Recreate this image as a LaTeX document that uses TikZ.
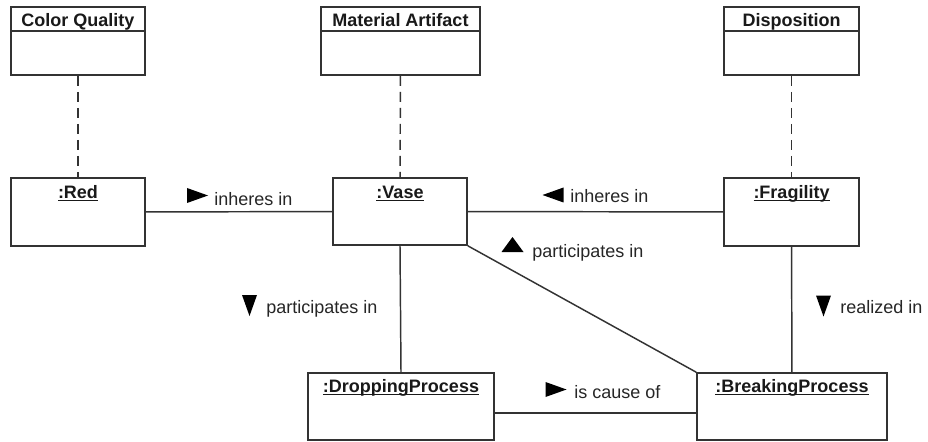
\documentclass[tikz,border=0pt]{standalone}
\usepackage{fontspec}
\setmainfont{Liberation Sans}
\usetikzlibrary{calc,positioning}
\newcommand{\objname}[1]{\setbox0\hbox{#1}\rlap{\rule[-1.8pt]{\wd0}{0.8pt}}\box0}
\tikzset{
box/.style={draw=black!80,line width=1.2pt,fill=white,inner sep=0pt},
assoc/.style={draw=black!80,line width=1.1pt},
inst/.style={assoc,dash pattern=on 7.5pt off 4.5pt},
boxtitle/.style={anchor=base,inner sep=0pt,text=black!90,font=\bfseries\fontsize{13.5}{16}\selectfont},
lbl/.style={anchor=base west,inner sep=0pt,text=black!85,font=\fontsize{13.5}{16}\selectfont},
rolearrow/.pic={\fill[black] (-10.5,7.5) -- (10.5,0) -- (-10.5,-7.5) -- cycle;},
flatarrow/.pic={\fill[black] (-7.5,11) -- (7.5,0) -- (-7.5,-11) -- cycle;}
}

\begin{document}
\begin{tikzpicture}[x=0.75pt,y=-0.75pt]
	\useasboundingbox (0,0) rectangle (928,442);
	
	%classes
	\node[box,minimum width=100.5pt,minimum height=51pt] (cq) at (78,41) {};
	\node[box,minimum width=119.25pt,minimum height=51pt] (ma) at (400.5,41) {};
	\node[box,minimum width=101.25pt,minimum height=51pt] (disp) at (791.5,41) {};
	
	\node[boxtitle] (cqt) at ($(cq.north)+(0,20.5)$) {Color Quality};
	\node[boxtitle] (mat) at ($(ma.north)+(0,20.5)$) {Material Artifact};
	\node[boxtitle] (dispt) at ($(disp.north)+(0,20.5)$) {Disposition};
	
	\draw[assoc] ($(cq.north west)+(0,25)$) -- ($(cq.north east)+(0,25)$);
	\draw[assoc] ($(ma.north west)+(0,25)$) -- ($(ma.north east)+(0,25)$);
	\draw[assoc] ($(disp.north west)+(0,25)$) -- ($(disp.north east)+(0,25)$);
	
	%instances
	\node[box,minimum width=100.5pt,minimum height=51pt] (red) at (78,212) {};
	\node[box,minimum width=100.5pt,minimum height=50.25pt] (vase) at (400,211.5) {};
	\node[box,minimum width=101.25pt,minimum height=51pt] (frag) at (791.5,212) {};
	\node[box,minimum width=139.5pt,minimum height=50.25pt] (drop) at (401,406.5) {};
	\node[box,minimum width=142.5pt,minimum height=50.25pt] (brk) at (792,406.5) {};
	
	\node[boxtitle] (redt) at ($(red.north)+(0,21)$) {\objname{:Red}};
	\node[boxtitle] (vaset) at ($(vase.north)+(0,21)$) {\objname{:Vase}};
	\node[boxtitle] (fragt) at ($(frag.north)+(0,21)$) {\objname{:Fragility}};
	\node[boxtitle] (dropt) at ($(drop.north)+(0,20)$) {\objname{:DroppingProcess}};
	\node[boxtitle] (brkt) at ($(brk.north)+(0,20)$) {\objname{:BreakingProcess}};
	
	%instance of
	\draw[inst] (cq) -- (red);
	\draw[inst] (ma) -- (vase);
	\draw[inst] (disp) -- (frag);
	
	%links
	\draw[assoc] (red) -- (vase);
	\draw[assoc] (vase) -- (frag);
	\draw[assoc] (vase.south) -- (drop.north);
	\draw[assoc] (vase.south east) -- (brk.north west);
	\draw[assoc] (frag) -- (brk);
	\draw[assoc] ([yshift=-4.9pt]drop.east) -- ([yshift=-4.9pt]brk.west);
	
	%link names
	\pic at (197.5,195.5) {rolearrow};
	\node[lbl] (l1) at (214,205) {inheres in};
	\pic[rotate=180] at (553,195) {rolearrow};
	\node[lbl] (l2) at (570,203) {inheres in};
	\pic[rotate=90] at (512.5,244.5) {flatarrow};
	\node[lbl] (l3) at (532,257) {participates in};
	\pic[rotate=-90] at (249.5,305.5) {rolearrow};
	\node[lbl] (l4) at (266,313) {participates in};
	\pic[rotate=-90] at (823.5,306) {rolearrow};
	\node[lbl] (l5) at (840,313) {realized in};
	\pic at (556,389.5) {rolearrow};
	\node[lbl] (l6) at (574,398) {is cause of};
	
\end{tikzpicture}
\end{document}
